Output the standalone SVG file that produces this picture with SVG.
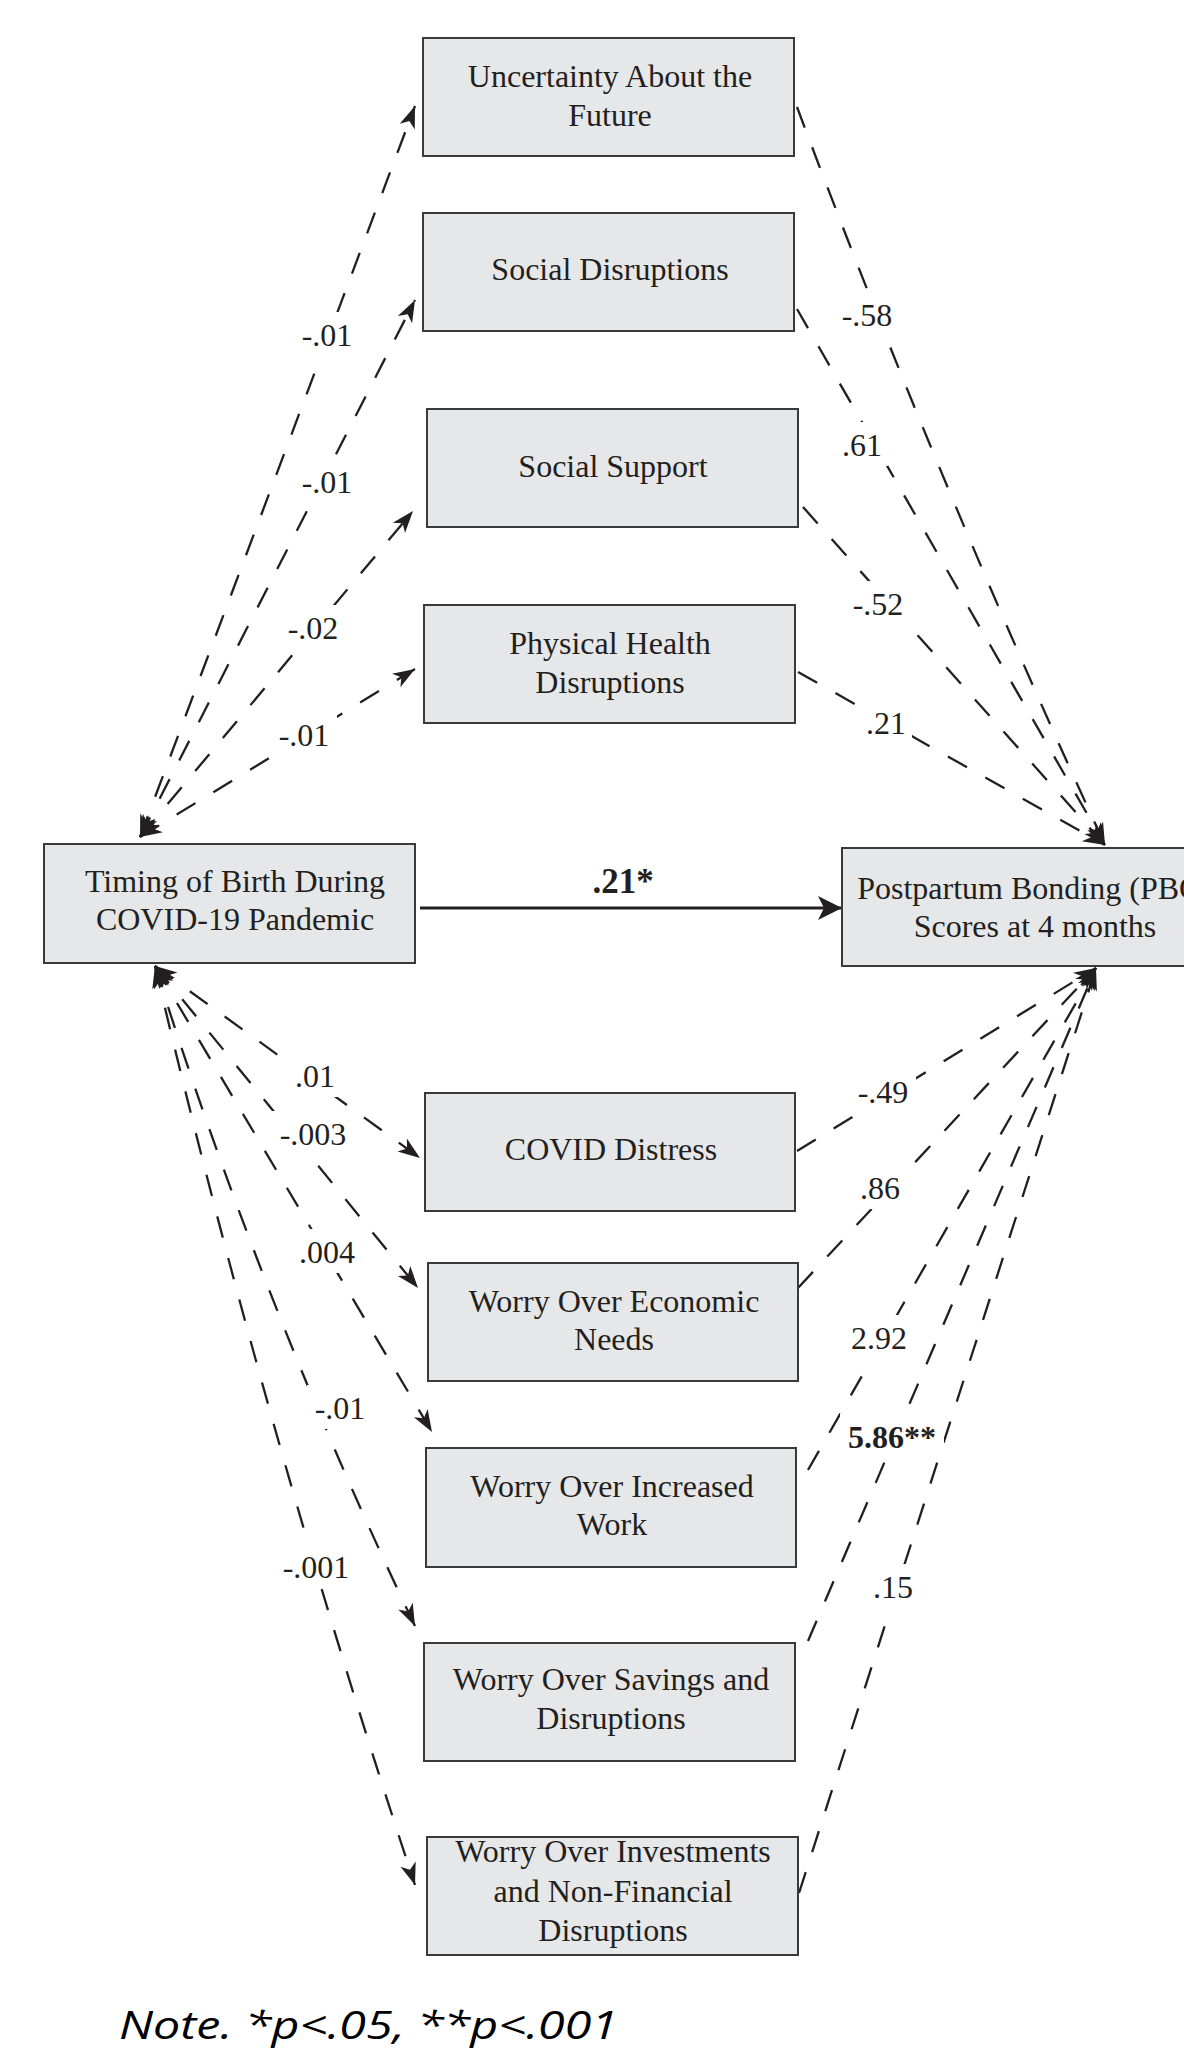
<svg xmlns="http://www.w3.org/2000/svg" width="1184" height="2053" viewBox="0 0 1184 2053">
<defs>
<style>
.box{fill:#e6e7e8;stroke:#3a3a3a;stroke-width:2}
.t{font-family:"Liberation Serif","Times New Roman",serif;font-size:32px;fill:#231f20;text-anchor:middle}
.lbl{font-family:"Liberation Serif","Times New Roman",serif;font-size:32px;fill:#231f20;text-anchor:middle}
.b{font-weight:bold}
.d{fill:none;stroke:#231f20;stroke-width:2.3;stroke-dasharray:22 21}
.d1{marker-end:url(#ah)}
.d2{marker-start:url(#ah);marker-end:url(#ah)}
.note{font-family:"Open Sans","Liberation Sans",sans-serif;font-style:italic;font-size:38px;fill:#000}
.hole{fill:#000}
</style>
<marker id="ah" viewBox="-24 -10 26 20" refX="0" refY="0" markerWidth="26" markerHeight="20" markerUnits="userSpaceOnUse" orient="auto-start-reverse">
<path d="M0,0 L-22,-8 L-16,0 L-22,8 Z" fill="#231f20"/>
</marker>
<marker id="ahMain" viewBox="-26 -14 28 28" refX="0" refY="0" markerWidth="28" markerHeight="28" markerUnits="userSpaceOnUse" orient="auto">
<path d="M0,0 L-24,-12 L-18,0 L-24,12 Z" fill="#231f20"/>
</marker>
<mask id="gaps" maskUnits="userSpaceOnUse" x="0" y="0" width="1184" height="2053">
<rect width="1184" height="2053" fill="#fff"/>
<rect class="hole" x="294" y="312" width="66" height="44"/>
<rect class="hole" x="294" y="459" width="66" height="44"/>
<rect class="hole" x="280" y="605" width="66" height="44"/>
<rect class="hole" x="271" y="712" width="66" height="44"/>
<rect class="hole" x="834" y="292" width="66" height="44"/>
<rect class="hole" x="836" y="422" width="52" height="44"/>
<rect class="hole" x="845" y="581" width="66" height="44"/>
<rect class="hole" x="860" y="700" width="52" height="44"/>
<rect class="hole" x="289" y="1053" width="52" height="44"/>
<rect class="hole" x="272" y="1111" width="82" height="44"/>
<rect class="hole" x="292" y="1229" width="70" height="44"/>
<rect class="hole" x="307" y="1385" width="66" height="44"/>
<rect class="hole" x="275" y="1544" width="82" height="44"/>
<rect class="hole" x="850" y="1069" width="66" height="44"/>
<rect class="hole" x="854" y="1165" width="52" height="44"/>
<rect class="hole" x="843" y="1315" width="72" height="44"/>
<rect class="hole" x="840" y="1414" width="104" height="44"/>
<rect class="hole" x="867" y="1564" width="52" height="44"/>
</mask>
</defs>
<rect width="1184" height="2053" fill="#fff"/>

<g id="connectors">
<g mask="url(#gaps)">
<!-- upper left: Timing <-> mediators -->
<path class="d d2" d="M140,837 L415,106"/>
<path class="d d2" d="M140,837 L415,300"/>
<path class="d d2" d="M140,837 L413,511"/>
<path class="d d2" d="M140,837 L415,669"/>
<!-- upper right: mediators -> PBQ -->
<path class="d d1" d="M797,107 Q937,481 1105,845"/>
<path class="d d1" d="M797,309 L1105,845"/>
<path class="d d1" d="M803,507 L1105,845"/>
<path class="d d1" d="M798,672 L1105,845"/>
<!-- lower left: Timing <-> mediators -->
<path class="d d2" d="M155,966 L420,1158"/>
<path class="d d2" d="M155,966 L418,1288"/>
<path class="d d2" d="M155,966 L432,1432"/>
<path class="d d2" d="M155,966 Q262,1306 415,1626"/>
<path class="d d2" d="M155,966 Q265,1432 415,1885"/>
<!-- lower right: mediators -> PBQ -->
<path class="d d1" d="M797,1151 L1096,968"/>
<path class="d d1" d="M798,1288 L1096,968"/>
<path class="d d1" d="M808,1470 L1096,968"/>
<path class="d d1" d="M808,1641 L1096,968"/>
<path class="d d1" d="M799,1893 L1096,968"/>
</g>
<!-- main path -->
<path d="M420,908 L842,908" fill="none" stroke="#231f20" stroke-width="3" marker-end="url(#ahMain)"/>

<g id="edge-labels">
<text class="lbl" x="327" y="346">-.01</text>
<text class="lbl" x="327" y="493">-.01</text>
<text class="lbl" x="313" y="639">-.02</text>
<text class="lbl" x="304" y="746">-.01</text>
<text class="lbl" x="867" y="326">-.58</text>
<text class="lbl" x="862" y="456">.61</text>
<text class="lbl" x="878" y="615">-.52</text>
<text class="lbl" x="886" y="734">.21</text>
<text class="lbl b" x="623" y="893" style="font-size:35px">.21*</text>
<text class="lbl" x="315" y="1087">.01</text>
<text class="lbl" x="313" y="1145">-.003</text>
<text class="lbl" x="327" y="1263">.004</text>
<text class="lbl" x="340" y="1419">-.01</text>
<text class="lbl" x="316" y="1578">-.001</text>
<text class="lbl" x="883" y="1103">-.49</text>
<text class="lbl" x="880" y="1199">.86</text>
<text class="lbl" x="879" y="1349">2.92</text>
<text class="lbl b" x="892" y="1448">5.86**</text>
<text class="lbl" x="893" y="1598">.15</text>
</g>
</g>

<g id="n-uncertainty">
<rect class="box" x="423" y="38" width="371" height="118"/>
<text class="t" x="610" y="87">Uncertainty About the</text>
<text class="t" x="610" y="126">Future</text>
</g>
<g id="n-social-disruptions">
<rect class="box" x="423" y="213" width="371" height="118"/>
<text class="t" x="610" y="280">Social Disruptions</text>
</g>
<g id="n-social-support">
<rect class="box" x="427" y="409" width="371" height="118"/>
<text class="t" x="613" y="477">Social Support</text>
</g>
<g id="n-physical-health">
<rect class="box" x="424" y="605" width="371" height="118"/>
<text class="t" x="610" y="654">Physical Health</text>
<text class="t" x="610" y="693">Disruptions</text>
</g>
<g id="n-timing">
<rect class="box" x="44" y="844" width="371" height="119"/>
<text class="t" x="235" y="892">Timing of Birth During</text>
<text class="t" x="235" y="930">COVID-19 Pandemic</text>
</g>
<g id="n-pbq">
<rect class="box" x="842" y="848" width="390" height="118"/>
<text class="t" x="1035" y="899">Postpartum Bonding (PBQ)</text>
<text class="t" x="1035" y="937">Scores at 4 months</text>
</g>
<g id="n-covid-distress">
<rect class="box" x="425" y="1093" width="370" height="118"/>
<text class="t" x="611" y="1160">COVID Distress</text>
</g>
<g id="n-economic">
<rect class="box" x="428" y="1263" width="370" height="118"/>
<text class="t" x="614" y="1312">Worry Over Economic</text>
<text class="t" x="614" y="1350">Needs</text>
</g>
<g id="n-work">
<rect class="box" x="426" y="1448" width="370" height="119"/>
<text class="t" x="612" y="1497">Worry Over Increased</text>
<text class="t" x="612" y="1535">Work</text>
</g>
<g id="n-savings">
<rect class="box" x="424" y="1643" width="371" height="118"/>
<text class="t" x="611" y="1690">Worry Over Savings and</text>
<text class="t" x="611" y="1729">Disruptions</text>
</g>
<g id="n-investments">
<rect class="box" x="427" y="1837" width="371" height="118"/>
<text class="t" x="613" y="1862">Worry Over Investments</text>
<text class="t" x="613" y="1902">and Non-Financial</text>
<text class="t" x="613" y="1941">Disruptions</text>
</g>

<g id="note">
<text class="note" x="119" y="2039" textLength="499" lengthAdjust="spacingAndGlyphs">Note. *p&lt;.05, **p&lt;.001</text>
</g>
</svg>
